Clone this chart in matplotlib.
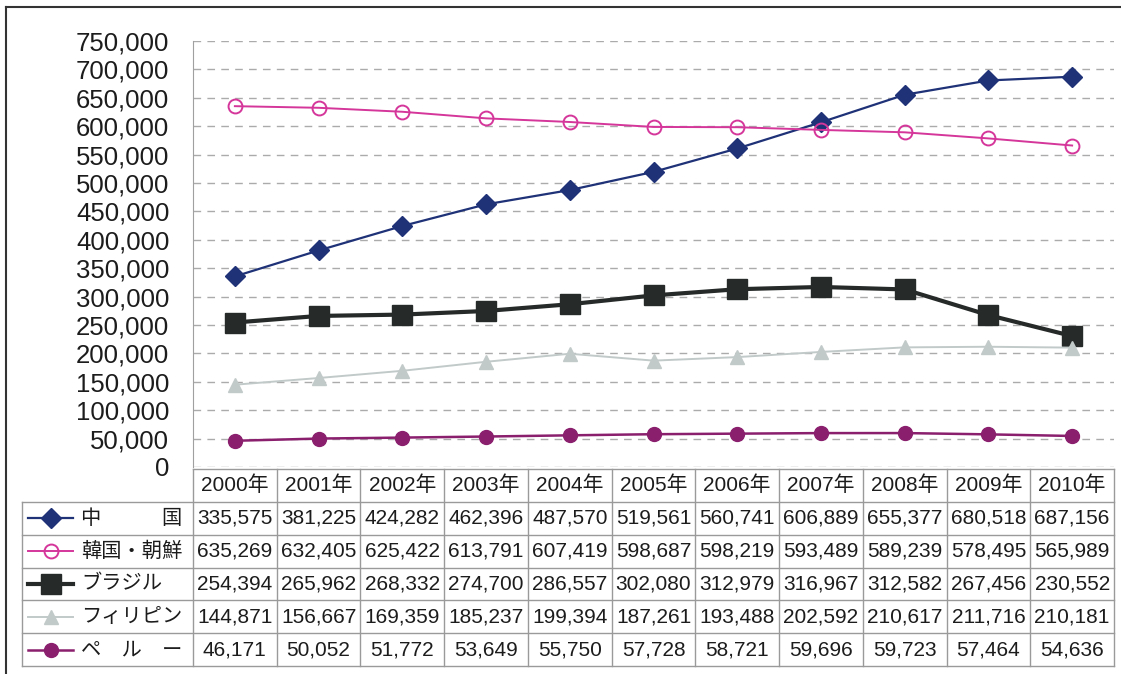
import matplotlib
matplotlib.use("Agg")
import matplotlib.pyplot as plt
from matplotlib.lines import Line2D

plt.rcParams['font.family'] = ['Liberation Sans', 'Noto Sans CJK JP', 'DejaVu Sans']

years = ["2000年", "2001年", "2002年", "2003年", "2004年", "2005年",
         "2006年", "2007年", "2008年", "2009年", "2010年"]
names = ["中　　　国", "韓国・朝鮮", "ブラジル", "フィリピン", "ペ　ル　ー"]
china = [335575, 381225, 424282, 462396, 487570, 519561, 560741, 606889, 655377, 680518, 687156]
korea = [635269, 632405, 625422, 613791, 607419, 598687, 598219, 593489, 589239, 578495, 565989]
brazil = [254394, 265962, 268332, 274700, 286557, 302080, 312979, 316967, 312582, 267456, 230552]
philippines = [144871, 156667, 169359, 185237, 199394, 187261, 193488, 202592, 210617, 211716, 210181]
peru = [46171, 50052, 51772, 53649, 55750, 57728, 58721, 59696, 59723, 57464, 54636]
yticks = list(range(0, 750001, 50000))

series = [china, korea, brazil, philippines, peru]
styles = [
    dict(color="#1f3278", lw=1.6, marker="D", ms=10.5, mfc="#1f3278", mec="#1f3278"),
    dict(color="#d4369a", lw=1.4, marker="o", ms=10, mfc="none", mec="#d4369a", mew=1.4),
    dict(color="#262b29", lw=3.0, marker="s", ms=14, mfc="#262b29", mec="#262b29"),
    dict(color="#c2c9c9", lw=1.4, marker="^", ms=9.5, mfc="#c2c9c9", mec="#c2c9c9"),
    dict(color="#8a1f6e", lw=1.8, marker="o", ms=10, mfc="#8a1f6e", mec="#8a1f6e"),
]

W, H = 1121, 674
fig = plt.figure(figsize=(W / 100, H / 100), dpi=100)

def fx(px):
    return px / W

def fy(py):
    return 1 - py / H

x_left, x_right = 193, 1114
y_top, y_bot = 41, 467
ax = fig.add_axes([fx(x_left), fy(y_bot), fx(x_right - x_left), (y_bot - y_top) / H])
xs = list(range(len(years)))
for vals, st in zip(series, styles):
    ax.plot(xs, vals, zorder=3, **st)
ax.set_xlim(-0.5, len(years) - 0.5)
ax.set_ylim(0, 750000)
ax.set_yticks(yticks)
ax.set_yticklabels([f"{v:,}" for v in yticks], fontsize=18.5, color="#1c1c1c")
ax.tick_params(axis="y", length=0, pad=17)
ax.set_xticks([])
ax.grid(axis="y", color="#ababab", ls=(0, (5.5, 4.5)), lw=1.0)
for s in ["top", "right", "bottom"]:
    ax.spines[s].set_visible(False)
ax.spines["left"].set_color("#a0a0a0")

# data table
t_left, t_top, t_bot = 22, 469, 666
col_w = (x_right - x_left) / len(years)
x0 = -0.5 - (x_left - t_left) / col_w
tax = fig.add_axes([fx(t_left), fy(t_bot), fx(x_right - t_left), (t_bot - t_top) / H])
tax.set_xlim(x0, len(years) - 0.5)
nrows = len(series) + 1
tax.set_ylim(nrows, 0)
tax.axis("off")
lc = "#9a9a9a"
tax.plot([-0.5, len(years) - 0.5], [0, 0], color=lc, lw=1, clip_on=False)
for r in range(1, nrows + 1):
    tax.plot([x0, len(years) - 0.5], [r, r], color=lc, lw=1, clip_on=False)
tax.plot([x0, x0], [1, nrows], color=lc, lw=1, clip_on=False)
for c in range(len(years) + 1):
    xv = c - 0.5
    tax.plot([xv, xv], [0, nrows], color=lc, lw=1, clip_on=False)

for i, y in enumerate(years):
    tax.text(i, 0.5, y, ha="center", va="center", fontsize=15, color="#1c1c1c",
             family=['Liberation Sans', 'Noto Sans CJK JP'])
for r, (vals, nm, st) in enumerate(zip(series, names, styles), start=1):
    for i, v in enumerate(vals):
        tax.text(i, r + 0.5, f"{v:,}", ha="center", va="center", fontsize=15, color="#1c1c1c")
    lx0 = x0 + 6 / col_w
    lx1 = x0 + 51 / col_w
    tax.add_line(Line2D([lx0, lx1], [r + 0.5, r + 0.5], color=st["color"], lw=st["lw"],
                        clip_on=False))
    tax.add_line(Line2D([(lx0 + lx1) / 2], [r + 0.5], ls="none", marker=st["marker"],
                        ms=st["ms"], mfc=st["mfc"], mec=st["mec"], mew=st.get("mew", 1),
                        clip_on=False))
    tax.text(x0 + 59 / col_w, r + 0.5, nm, ha="left", va="center", fontsize=14.6,
             color="#1c1c1c", family=['Noto Sans CJK JP', 'DejaVu Sans'])

# outer frame (top and left)
fig.add_artist(Line2D([fx(6), fx(W)], [fy(7), fy(7)], color="#333", lw=1.5))
fig.add_artist(Line2D([fx(6), fx(6)], [fy(7), 0], color="#333", lw=1.5))

fig.savefig("out.png", dpi=100)
